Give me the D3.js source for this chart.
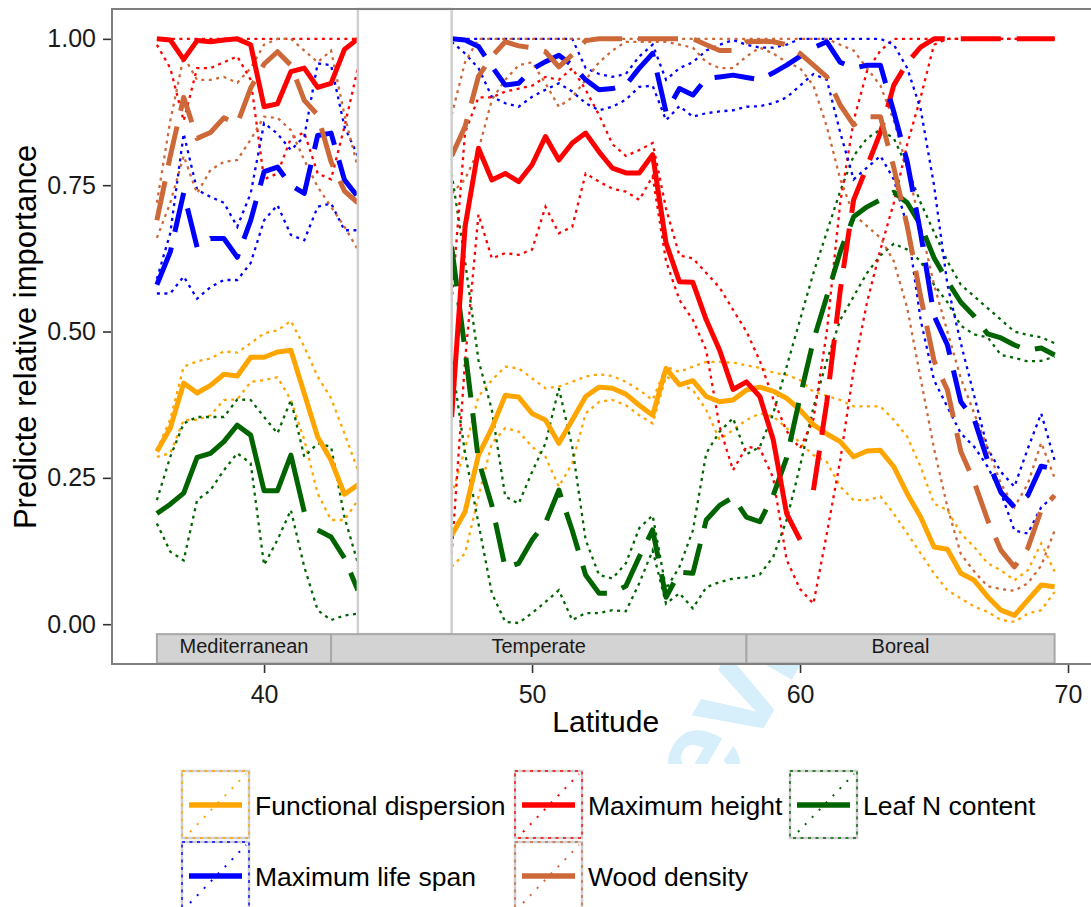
<!DOCTYPE html>
<html>
<head>
<meta charset="utf-8">
<script src="https://cdn.jsdelivr.net/npm/d3@7"></script>
<style>
	body { margin: 0; background: #fff; }
	svg { display: block; font-family: 'Liberation Sans', Arial, Helvetica, sans-serif; }
</style>
</head>
<body>
<div id="chart"></div>
<script>
const WIDTH = 1091;
const HEIGHT = 907;

// latitude of each model fit, half degree steps (no fits between 43.5 and 47)
const latitude = [36, 36.5, 37, 37.5, 38, 38.5, 39, 39.5, 40, 40.5, 41, 41.5, 42, 42.5, 43, 43.5,
	47, 47.5, 48, 48.5, 49, 49.5, 50, 50.5, 51, 51.5, 52, 52.5, 53, 53.5, 54, 54.5, 55, 55.5, 56, 56.5, 57, 57.5, 58, 58.5,
	59, 59.5, 60, 60.5, 61, 61.5, 62, 62.5, 63, 63.5, 64, 64.5, 65, 65.5, 66, 66.5, 67, 67.5, 68, 68.5, 69, 69.5];

// Functional dispersion
const fdFit = [0.295, 0.335, 0.412, 0.395, 0.408, 0.427, 0.424, 0.456, 0.456, 0.465, 0.468, 0.394, 0.32, 0.28, 0.222, 0.238,
	0.152, 0.192, 0.289, 0.335, 0.391, 0.388, 0.36, 0.349, 0.309, 0.349, 0.389, 0.405, 0.403, 0.393, 0.374, 0.357, 0.437, 0.409, 0.416, 0.389, 0.38, 0.383, 0.4, 0.405,
	0.398, 0.386, 0.366, 0.341, 0.325, 0.312, 0.286, 0.296, 0.297, 0.269, 0.223, 0.183, 0.132, 0.128, 0.087, 0.075, 0.047, 0.024, 0.015, 0.041, 0.067, 0.064];
const fdHigh = [0.297, 0.35, 0.44, 0.449, 0.454, 0.466, 0.464, 0.48, 0.497, 0.502, 0.518, 0.474, 0.423, 0.386, 0.326, 0.263,
	0.22, 0.3, 0.389, 0.417, 0.44, 0.437, 0.42, 0.403, 0.406, 0.414, 0.423, 0.427, 0.424, 0.414, 0.4, 0.383, 0.44, 0.431, 0.44, 0.448, 0.448, 0.447, 0.442, 0.438,
	0.43, 0.426, 0.417, 0.397, 0.39, 0.383, 0.372, 0.372, 0.372, 0.349, 0.32, 0.269, 0.206, 0.195, 0.155, 0.132, 0.104, 0.092, 0.075, 0.092, 0.138, 0.09];
const fdLow = [0.286, 0.292, 0.349, 0.349, 0.357, 0.383, 0.384, 0.414, 0.417, 0.422, 0.383, 0.315, 0.223, 0.178, 0.178, 0.212,
	0.098, 0.121, 0.218, 0.309, 0.335, 0.329, 0.303, 0.286, 0.235, 0.275, 0.36, 0.38, 0.383, 0.374, 0.357, 0.343, 0.423, 0.411, 0.4, 0.366, 0.315, 0.332, 0.349, 0.36,
	0.355, 0.335, 0.309, 0.289, 0.277, 0.235, 0.212, 0.212, 0.218, 0.189, 0.155, 0.121, 0.087, 0.058, 0.044, 0.03, 0.021, 0.007, 0.004, 0.018, 0.024, 0.055];

// Maximum height
const mhFit = [1.0, 0.998, 0.965, 0.997, 0.995, 0.998, 1.0, 0.99, 0.884, 0.889, 0.944, 0.95, 0.917, 0.924, 0.982, 1.0,
	0.354, 0.679, 0.813, 0.759, 0.77, 0.756, 0.785, 0.833, 0.793, 0.822, 0.839, 0.807, 0.779, 0.771, 0.771, 0.802, 0.651, 0.585, 0.584, 0.52, 0.468, 0.401, 0.414, 0.389,
	0.315, 0.189, 0.144, 0.229, 0.38, 0.57, 0.725, 0.782, 0.84, 0.921, 0.959, 0.986, 1, 1, 1, 1, 1, 1, 1, 1, 1, 1];
const mhHigh = [1, 1, 1, 1, 1, 1, 1, 1, 1, 1, 1, 1, 1, 1, 1, 1,
	0.55, 0.84, 0.9, 0.9, 0.91, 0.915, 0.92, 0.935, 0.93, 0.95, 0.913, 0.87, 0.82, 0.8, 0.81, 0.822, 0.71, 0.63, 0.625, 0.6, 0.575, 0.537, 0.5, 0.45,
	0.385, 0.33, 0.3, 0.35, 0.5, 0.72, 0.86, 0.945, 0.98, 1, 1, 1, 1, 1, 1, 1, 1, 1, 1, 1, 1, 1];
const mhLow = [0.99, 0.95, 0.86, 0.95, 0.95, 0.96, 0.97, 0.93, 0.76, 0.77, 0.83, 0.84, 0.77, 0.76, 0.85, 0.95,
	0.12, 0.45, 0.7, 0.625, 0.634, 0.631, 0.64, 0.713, 0.668, 0.679, 0.77, 0.756, 0.744, 0.739, 0.725, 0.765, 0.62, 0.554, 0.52, 0.468, 0.337, 0.263, 0.303, 0.3,
	0.25, 0.11, 0.06, 0.035, 0.155, 0.28, 0.434, 0.55, 0.64, 0.72, 0.82, 0.9, 0.99, 1, 1, 1, 1, 1, 1, 1, 1, 1];

// Leaf N content
const lnFit = [0.189, 0.205, 0.224, 0.285, 0.292, 0.312, 0.34, 0.323, 0.228, 0.228, 0.289, 0.192, 0.161, 0.149, 0.113, 0.058,
	0.645, 0.468, 0.28, 0.203, 0.096, 0.104, 0.144, 0.173, 0.229, 0.16, 0.084, 0.053, 0.053, 0.065, 0.115, 0.161, 0.046, 0.089, 0.087, 0.178, 0.203, 0.217, 0.183, 0.175,
	0.22, 0.284, 0.388, 0.485, 0.56, 0.636, 0.696, 0.713, 0.725, 0.738, 0.72, 0.682, 0.626, 0.586, 0.55, 0.526, 0.496, 0.489, 0.477, 0.468, 0.472, 0.46];
const lnHigh = [0.212, 0.286, 0.343, 0.354, 0.354, 0.354, 0.384, 0.383, 0.354, 0.326, 0.383, 0.286, 0.309, 0.303, 0.183, 0.104,
	0.77, 0.62, 0.451, 0.366, 0.218, 0.206, 0.26, 0.309, 0.403, 0.303, 0.144, 0.084, 0.078, 0.104, 0.164, 0.186, 0.06, 0.098, 0.16, 0.292, 0.329, 0.352, 0.29, 0.303,
	0.36, 0.44, 0.52, 0.6, 0.67, 0.74, 0.8, 0.83, 0.845, 0.83, 0.78, 0.72, 0.67, 0.62, 0.58, 0.56, 0.54, 0.52, 0.5, 0.494, 0.49, 0.48];
const lnLow = [0.172, 0.124, 0.109, 0.212, 0.229, 0.263, 0.292, 0.275, 0.101, 0.144, 0.195, 0.098, 0.024, 0.007, 0.015, 0.018,
	0.45, 0.292, 0.172, 0.053, 0.004, 0.002, 0.019, 0.038, 0.058, 0.007, 0.019, 0.019, 0.024, 0.022, 0.07, 0.126, 0.035, 0.053, 0.027, 0.063, 0.072, 0.078, 0.08, 0.085,
	0.115, 0.178, 0.27, 0.37, 0.45, 0.52, 0.56, 0.6, 0.63, 0.65, 0.64, 0.62, 0.58, 0.55, 0.51, 0.495, 0.49, 0.46, 0.455, 0.449, 0.45, 0.457];

// Maximum life span
const mlsFit = [0.58, 0.636, 0.737, 0.644, 0.659, 0.659, 0.627, 0.69, 0.773, 0.781, 0.75, 0.736, 0.835, 0.839, 0.759, 0.73,
	1.0, 0.998, 0.987, 0.953, 0.921, 0.924, 0.948, 0.961, 0.972, 0.955, 0.93, 0.913, 0.915, 0.921, 0.95, 0.975, 0.875, 0.915, 0.904, 0.932, 0.935, 0.938, 0.934, 0.93,
	0.942, 0.955, 0.97, 0.985, 0.995, 0.96, 0.95, 0.955, 0.955, 0.875, 0.79, 0.668, 0.527, 0.477, 0.38, 0.35, 0.28, 0.225, 0.2, 0.22, 0.27, 0.265];
const mlsHigh = [0.59, 0.668, 0.838, 0.742, 0.73, 0.72, 0.679, 0.736, 0.856, 0.838, 0.81, 0.833, 0.958, 0.955, 0.85, 0.8,
	1, 1, 1, 1, 1, 1, 1, 1, 1, 1, 0.95, 0.94, 0.935, 0.94, 0.97, 0.99, 0.93, 0.95, 0.96, 0.98, 0.99, 0.998, 0.99, 0.985,
	0.985, 0.99, 1, 1, 1, 1, 1, 1, 1, 0.99, 0.95, 0.88, 0.75, 0.58, 0.48, 0.39, 0.3, 0.26, 0.235, 0.3, 0.36, 0.28];
const mlsLow = [0.565, 0.565, 0.594, 0.556, 0.576, 0.588, 0.588, 0.617, 0.69, 0.716, 0.665, 0.656, 0.713, 0.719, 0.673, 0.673,
	0.995, 0.975, 0.95, 0.901, 0.89, 0.884, 0.901, 0.913, 0.924, 0.91, 0.89, 0.878, 0.884, 0.896, 0.918, 0.92, 0.861, 0.885, 0.867, 0.873, 0.876, 0.878, 0.884, 0.885,
	0.89, 0.9, 0.92, 0.94, 0.93, 0.84, 0.76, 0.78, 0.8, 0.76, 0.68, 0.52, 0.417, 0.371, 0.326, 0.303, 0.269, 0.224, 0.16, 0.155, 0.2, 0.22];

// Wood density
const wdFit = [0.69, 0.8, 0.9, 0.83, 0.84, 0.865, 0.855, 0.916, 0.957, 0.978, 0.955, 0.895, 0.87, 0.79, 0.74, 0.72,
	0.8, 0.85, 0.936, 0.97, 0.995, 0.988, 0.985, 0.978, 0.952, 0.973, 0.997, 1, 1, 1, 1, 1, 1, 1, 1, 0.99, 0.98, 0.98, 0.995, 0.996,
	0.995, 0.99, 0.975, 0.955, 0.935, 0.887, 0.853, 0.867, 0.867, 0.78, 0.68, 0.56, 0.45, 0.4, 0.295, 0.243, 0.178, 0.126, 0.098, 0.13, 0.195, 0.22];
const wdHigh = [0.72, 0.86, 0.97, 0.93, 0.93, 0.935, 0.925, 0.95, 0.99, 1, 1, 0.98, 0.96, 0.98, 0.87, 0.78,
	0.87, 0.96, 1, 1, 1, 1, 1, 1, 1, 1, 1, 1, 1, 1, 1, 1, 1, 1, 1, 1, 1, 1, 1, 1,
	1, 1, 1, 1, 1, 0.99, 0.98, 0.95, 0.92, 0.86, 0.78, 0.68, 0.58, 0.5, 0.42, 0.36, 0.3, 0.24, 0.2, 0.24, 0.31, 0.25];
const wdLow = [0.66, 0.72, 0.8, 0.736, 0.776, 0.79, 0.793, 0.828, 0.867, 0.865, 0.844, 0.793, 0.747, 0.713, 0.679, 0.64,
	0.736, 0.76, 0.81, 0.896, 0.93, 0.955, 0.96, 0.924, 0.884, 0.9, 0.93, 0.96, 0.98, 0.995, 0.995, 0.995, 0.995, 0.99, 0.985, 0.96, 0.95, 0.95, 0.97, 0.985,
	0.975, 0.96, 0.95, 0.92, 0.85, 0.76, 0.7, 0.68, 0.66, 0.62, 0.54, 0.42, 0.3, 0.2, 0.12, 0.09, 0.065, 0.06, 0.057, 0.07, 0.1, 0.16];

// latitude ranges where the fit is drawn solid (significant) or dashed
const fdRuns = [[36, 69.5, 'solid']];
const mhRuns = [[36, 60, 'solid'], [60.5, 69.5, 'dashed']];
const lnRuns = [[36, 41.5, 'solid'], [42, 69.5, 'dashed']];
const mlsRuns = [[36, 69.5, 'dashed']];
const wdRuns = [[36, 69.5, 'dashed']];

const zoneNames = ['Mediterranean', 'Temperate', 'Boreal'];
const zoneStart = [36, 42.5, 58];
const zoneEnd = [42.5, 58, 69.5];
const gapStart = 43.5;
const gapEnd = 47;

const yTicks = [0, 0.25, 0.5, 0.75, 1];
const xTicks = [40, 50, 60, 70];

const traits = [
	{ name: 'Functional dispersion', color: '#FFA500', fit: fdFit, low: fdLow, high: fdHigh, runs: fdRuns },
	{ name: 'Maximum height', color: '#FF0000', fit: mhFit, low: mhLow, high: mhHigh, runs: mhRuns },
	{ name: 'Leaf N content', color: '#006400', fit: lnFit, low: lnLow, high: lnHigh, runs: lnRuns },
	{ name: 'Maximum life span', color: '#0000FF', fit: mlsFit, low: mlsLow, high: mlsHigh, runs: mlsRuns },
	{ name: 'Wood density', color: '#CD6839', fit: wdFit, low: wdLow, high: wdHigh, runs: wdRuns }
];
// drawing order, bottom to top
const drawOrder = [0, 2, 1, 3, 4];

const PANEL = { left: 112, right: 1099.5, top: 9, bottom: 664 };
const DASH = '40,16';
const DOT = '3,4.5';

const svg = d3.select('#chart').append('svg')
	.attr('width', WIDTH)
	.attr('height', HEIGHT);

svg.append('rect').attr('width', WIDTH).attr('height', HEIGHT).attr('fill', '#fff');

const x = d3.scaleLinear().domain([34.325, 71.175]).range([PANEL.left, PANEL.right]);
const y = d3.scaleLinear().domain([-0.068, 1.051]).range([PANEL.bottom, PANEL.top]);

// journal watermark, mostly hidden behind panel and legend
svg.append('text')
	.attr('transform', 'translate(780,700) rotate(-60)')
	.attr('text-anchor', 'middle')
	.attr('font-size', 130)
	.attr('font-weight', 'bold')
	.attr('fill', '#d7effb')
	.text('Review');

// panel
svg.append('rect')
	.attr('x', PANEL.left).attr('y', PANEL.top)
	.attr('width', PANEL.right - PANEL.left).attr('height', PANEL.bottom - PANEL.top)
	.attr('fill', '#fff');

// split a series into connected pieces: break at the latitude gap and where the line type changes
function pieces(values, runs) {
	const out = [];
	let cur = null;
	latitude.forEach((lat, i) => {
		const style = runs ? runs.find(r => lat >= r[0] && lat <= r[1])[2] : 'dotted';
		if (!cur || cur.style !== style || lat - latitude[i - 1] > 0.5) {
			cur = { style: style, pts: [] };
			out.push(cur);
		}
		cur.pts.push([lat, values[i]]);
	});
	return out;
}

const line = d3.line().x(d => x(d[0])).y(d => y(d[1]));
const plot = svg.append('g').attr('class', 'lines');

// confidence bounds first
drawOrder.forEach(k => {
	const t = traits[k];
	[t.low, t.high].forEach(vals => {
		pieces(vals, null).forEach(p => {
			plot.append('path')
				.attr('d', line(p.pts))
				.attr('fill', 'none')
				.attr('stroke', t.color)
				.attr('stroke-width', 2.3)
				.attr('stroke-dasharray', DOT);
		});
	});
});

drawOrder.forEach(k => {
	const t = traits[k];
	pieces(t.fit, t.runs).forEach(p => {
		plot.append('path')
			.attr('d', line(p.pts))
			.attr('fill', 'none')
			.attr('stroke', t.color)
			.attr('stroke-width', 5)
			.attr('stroke-linejoin', 'round')
			.attr('stroke-dasharray', p.style === 'dashed' ? DASH : null);
	});
});

// latitudes without data
svg.append('rect')
	.attr('x', x(gapStart)).attr('y', y(1.051))
	.attr('width', x(gapEnd) - x(gapStart)).attr('height', y(-0.017) - y(1.051))
	.attr('fill', '#fff')
	.attr('stroke', '#cfcfcf')
	.attr('stroke-width', 2.5);

// biome strips
const strips = svg.append('g').attr('class', 'zones');
zoneNames.forEach((name, i) => {
	strips.append('rect')
		.attr('x', x(zoneStart[i])).attr('y', y(-0.017))
		.attr('width', x(zoneEnd[i]) - x(zoneStart[i])).attr('height', y(-0.067) - y(-0.017))
		.attr('fill', '#d3d3d3')
		.attr('stroke', '#a8a8a8')
		.attr('stroke-width', 2);
	strips.append('text')
		.attr('x', x((zoneStart[i] + zoneEnd[i]) / 2)).attr('y', 653)
		.attr('text-anchor', 'middle')
		.attr('font-size', 20)
		.attr('fill', '#1a1a1a')
		.text(name);
});

// panel border
svg.append('path')
	.attr('d', `M${WIDTH + 5},${PANEL.top}H${PANEL.left}V${PANEL.bottom}H${WIDTH + 5}`)
	.attr('fill', 'none')
	.attr('stroke', '#7f7f7f')
	.attr('stroke-width', 2);

// axes
const yAxis = svg.append('g')
	.attr('transform', `translate(${PANEL.left - 1},0)`)
	.call(d3.axisLeft(y).tickValues(yTicks).tickFormat(d3.format('.2f')).tickSize(8).tickPadding(7));
const xAxis = svg.append('g')
	.attr('transform', `translate(0,${PANEL.bottom + 1})`)
	.call(d3.axisBottom(x).tickValues(xTicks).tickSize(8).tickPadding(12));
[yAxis, xAxis].forEach(a => {
	a.select('.domain').remove();
	a.selectAll('.tick line').attr('stroke', '#333').attr('stroke-width', 1.6);
	a.selectAll('.tick text')
		.attr('font-family', 'Liberation Sans, Arial, sans-serif')
		.attr('font-size', 25)
		.attr('fill', '#1a1a1a');
});

svg.append('text')
	.attr('x', (PANEL.left + PANEL.right) / 2).attr('y', 732)
	.attr('text-anchor', 'middle')
	.attr('font-size', 30)
	.text('Latitude');

svg.append('text')
	.attr('transform', 'translate(36,337) rotate(-90)')
	.attr('text-anchor', 'middle')
	.attr('font-size', 31)
	.text('Predicte relative importance');

// legend
const legend = svg.append('g').attr('class', 'legend');
legend.append('rect')
	.attr('x', 172).attr('y', 764).attr('width', 880).attr('height', 150)
	.attr('fill', '#fff');

const keyX = [182, 515, 790, 182, 515];
const keyY = [771, 771, 771, 842, 842];
const KEY = 67;
traits.forEach((t, i) => {
	const g = legend.append('g').attr('transform', `translate(${keyX[i]},${keyY[i]})`);
	g.append('rect')
		.attr('x', 0).attr('y', 0).attr('width', KEY).attr('height', KEY)
		.attr('fill', '#fff').attr('stroke', '#cfcfcf').attr('stroke-width', 2.5);
	g.append('rect')
		.attr('x', 0).attr('y', 0).attr('width', KEY).attr('height', KEY)
		.attr('fill', 'none').attr('stroke', t.color).attr('stroke-width', 1.4)
		.attr('stroke-dasharray', DOT);
	g.append('line')
		.attr('x1', 8).attr('y1', 61).attr('x2', 64).attr('y2', 3)
		.attr('stroke', t.color).attr('stroke-width', 2).attr('stroke-dasharray', '2,8');
	g.append('line')
		.attr('x1', 7).attr('y1', 34).attr('x2', 60).attr('y2', 34)
		.attr('stroke', t.color).attr('stroke-width', 5.5);
	g.append('text')
		.attr('x', KEY + 6).attr('y', 44)
		.attr('font-size', 26.5)
		.text(t.name);
});
</script>
</body>
</html>
